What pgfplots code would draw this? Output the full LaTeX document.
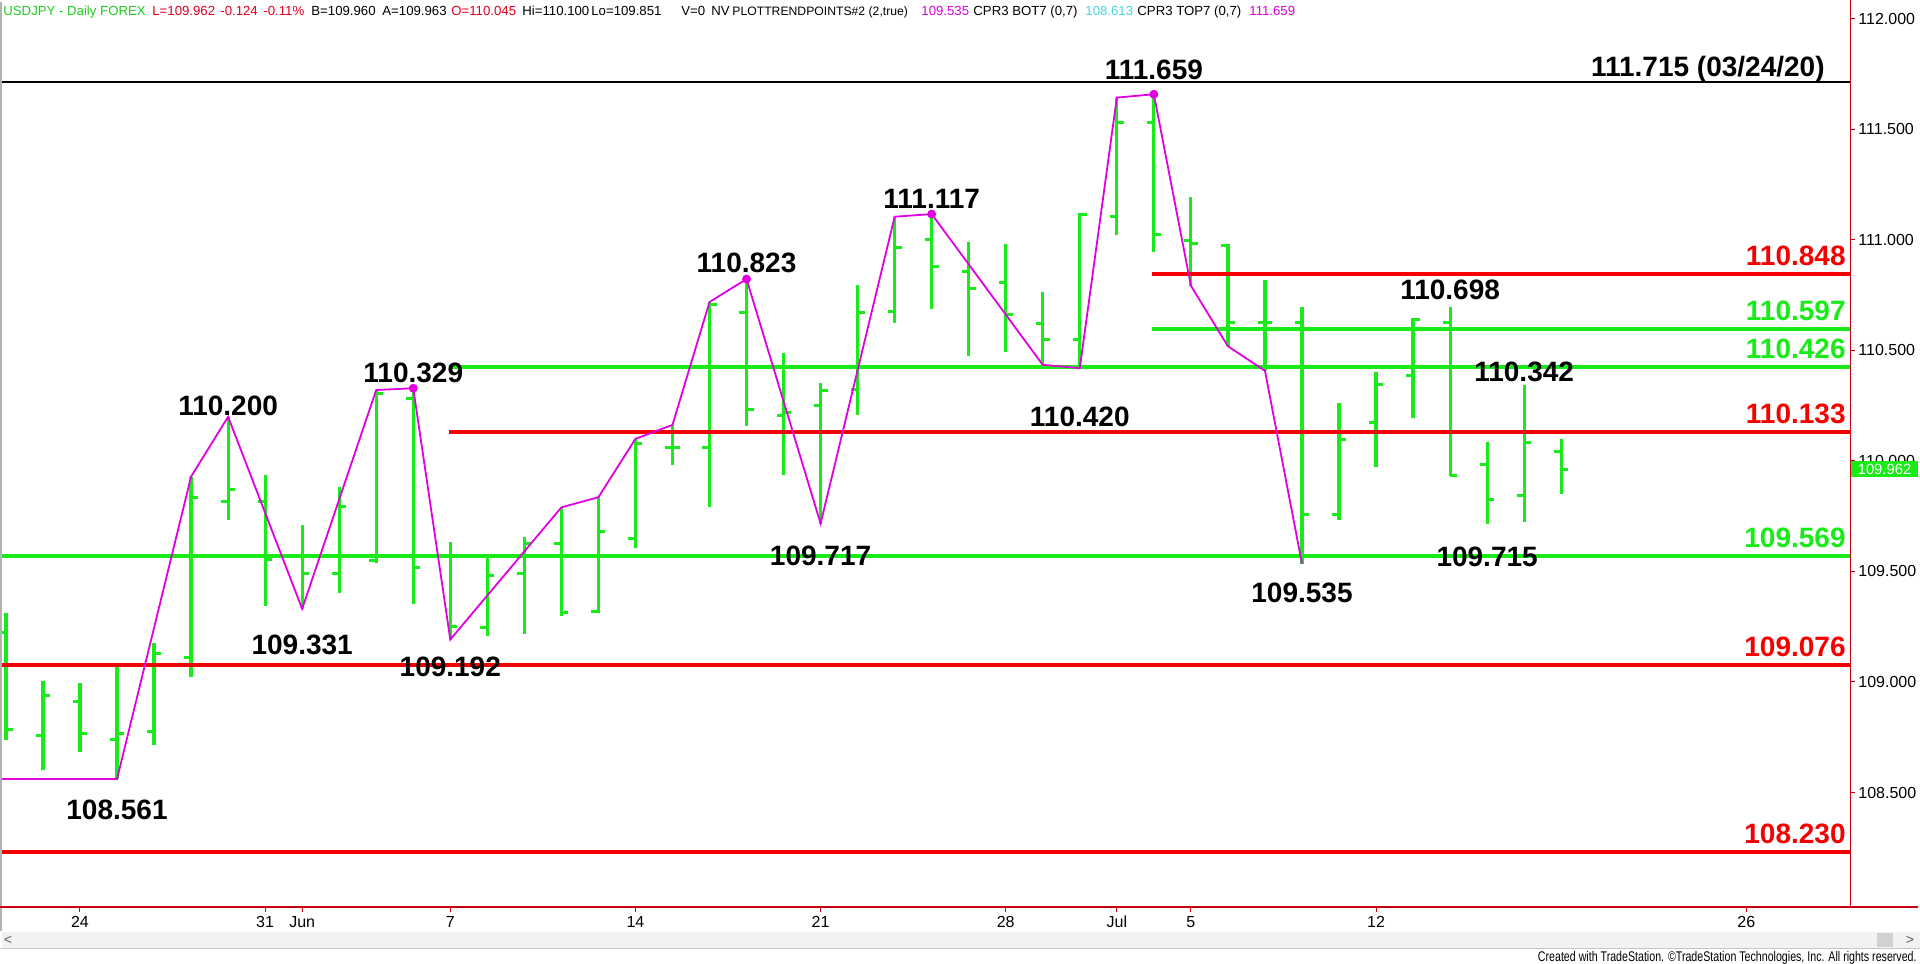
\documentclass[border=0pt]{standalone}
\usepackage{fontspec}
\setmainfont{Liberation Sans}
\newfontfamily\narrowfont{Liberation Sans}[FakeStretch=0.76]
\usepackage{pgfplots}
\usepackage{pgfplotstable}
\pgfplotsset{compat=1.18}

\definecolor{barG}{RGB}{25,235,25}
\definecolor{lvR}{RGB}{245,0,0}
\definecolor{zz}{RGB}{225,0,225}
\definecolor{axR}{RGB}{200,0,20}
\definecolor{hdrG}{RGB}{30,205,30}
\definecolor{hdrR}{RGB}{225,0,30}
\definecolor{hdrM}{RGB}{220,0,220}
\definecolor{hdrC}{RGB}{70,215,225}

% daily USDJPY bars, i = trading day (0 = May 24)
\pgfplotstableread{
i  O       H       L       C
-2 109.222 109.312 108.738 108.787
-1 108.760 109.005 108.602 108.937
0  108.910 108.995 108.683 108.765
1  108.738 109.068 108.561 108.765
2  108.774 109.176 108.715 109.127
3  109.113 109.929 109.023 109.833
4  109.816 110.200 109.733 109.873
5  109.816 109.937 109.344 109.552
6  109.570 109.710 109.331 109.492
7  109.492 109.884 109.401 109.793
8  109.549 110.321 109.537 110.306
9  110.284 110.329 109.353 109.519
10 109.570 109.635 109.192 109.253
11 109.247 109.567 109.210 109.480
12 109.492 109.655 109.216 109.628
13 109.628 109.790 109.299 109.315
14 109.318 109.836 109.314 109.680
15 109.647 110.100 109.608 110.080
16 110.063 110.163 109.982 110.063
17 110.063 110.719 109.792 110.710
18 110.670 110.823 110.158 110.231
19 110.204 110.489 109.937 110.217
20 110.249 110.353 109.717 110.317
21 110.324 110.796 110.207 110.670
22 110.674 111.105 110.624 110.964
23 111.000 111.117 110.686 110.880
24 110.855 110.990 110.475 110.781
25 110.809 110.982 110.492 110.662
26 110.622 110.765 110.435 110.548
27 110.548 111.124 110.420 111.113
28 111.105 111.644 111.023 111.533
29 111.533 111.659 110.944 111.026
30 110.998 111.196 110.793 110.982
31 110.975 110.982 110.519 110.625
32 110.626 110.820 110.408 110.626
33 110.626 110.695 109.535 109.760
34 109.760 110.261 109.733 110.098
35 110.175 110.404 109.971 110.347
36 110.388 110.646 110.193 110.641
37 110.628 110.698 109.932 109.932
38 109.982 110.087 109.715 109.827
39 109.843 110.342 109.725 110.084
40 110.045 110.100 109.851 109.962
}\ohlc

\begin{document}
\begin{tikzpicture}[hl/.style={font=\fontsize{14}{16}\selectfont\bfseries, inner sep=0pt, text=black}]
\begin{axis}[
  scale only axis, width=924pt, height=452pt,
  xmin=-2.106, xmax=47.80, ymin=107.982, ymax=112.072,
  clip mode=individual,
  axis line style={draw=none},
  xtick pos=bottom, ytick pos=right,
  tick align=outside, major tick length=2.5pt,
  tick style={draw=axR, line width=0.5pt},
  xtick={0,5,10,15,20,25,30,35,45},
  xticklabels={24,31,7,14,21,28,5,12,26},
  extra x ticks={6,28},
  extra x tick labels={Jun,Jul},
  ytick={108.5,109,109.5,110,110.5,111,111.5,112},
  scaled y ticks=false,
  y tick label style={/pgf/number format/.cd, fixed, fixed zerofill, precision=3, 1000 sep={}, assume math mode=true, /tikz/.cd,
    font=\fontsize{8}{9}\selectfont, text=black, anchor=west, inner sep=0pt, xshift=1.5pt},
  x tick label style={font=\fontsize{8}{9}\selectfont, text=black, anchor=north, inner sep=0pt, yshift=-2pt},
]
% OHLC bars: range, open tick (left), close tick (right)
\addplot[draw=none, mark=none, forget plot,
  error bars/.cd, y dir=minus, y explicit, error mark=none,
  error bar style={draw=barG, line width=1.6pt}]
  table[x=i, y=H, y error minus expr=\thisrow{H}-\thisrow{L}] {\ohlc};
\addplot[draw=none, mark=none, forget plot,
  error bars/.cd, x dir=minus, x fixed=0.19, error mark=none,
  error bar style={draw=barG, line width=1.5pt}]
  table[x=i, y=O] {\ohlc};
\addplot[draw=none, mark=none, forget plot,
  error bars/.cd, x dir=plus, x fixed=0.19, error mark=none,
  error bar style={draw=barG, line width=1.5pt}]
  table[x=i, y=C] {\ohlc};

% support / resistance levels
\addplot[black, line width=1pt] coordinates {(-2.106,111.715) (47.80,111.715)};
\addplot[lvR, line width=2pt] coordinates {(28.95,110.848) (47.80,110.848)};
\addplot[barG, line width=2pt] coordinates {(28.95,110.597) (47.80,110.597)};
\addplot[barG, line width=2pt] coordinates {(9.97,110.426) (47.80,110.426)};
\addplot[lvR, line width=2pt] coordinates {(9.97,110.133) (47.80,110.133)};
\addplot[barG, line width=2pt] coordinates {(-2.106,109.569) (47.80,109.569)};
\addplot[lvR, line width=2pt] coordinates {(-2.106,109.076) (47.80,109.076)};
\addplot[lvR, line width=2pt] coordinates {(-2.106,108.230) (47.80,108.230)};

% trend points zigzag
\addplot[zz, line width=0.9pt] coordinates {
  (-2.106,108.561) (1,108.561) (3,109.929) (4,110.200) (6,109.331) (8,110.321)
  (9,110.329) (10,109.192) (13,109.790) (14,109.836) (15,110.100) (16,110.163)
  (17,110.719) (18,110.823) (20,109.717) (22,111.105) (23,111.117) (26,110.435)
  (27,110.420) (28,111.644) (29,111.659) (30,110.793) (31,110.519) (32,110.408)
  (33,109.535)};
\addplot[zz, only marks, mark=*, mark size=2pt] coordinates {
  (9,110.329) (18,110.823) (23,111.117) (29,111.659)};

% swing labels
\node[hl, anchor=south, yshift=0.5pt] at (axis cs:4,110.200) {110.200};
\node[hl, anchor=south, yshift=2.5pt] at (axis cs:9,110.329) {110.329};
\node[hl, anchor=south, yshift=3pt] at (axis cs:18,110.823) {110.823};
\node[hl, anchor=south, yshift=2.5pt] at (axis cs:23,111.117) {111.117};
\node[hl, anchor=south, yshift=7pt] at (axis cs:29,111.659) {111.659};
\node[hl, anchor=south, yshift=3.5pt] at (axis cs:37,110.698) {110.698};
\node[hl, anchor=south, yshift=1.5pt] at (axis cs:39,110.342) {110.342};
\node[hl, anchor=north, yshift=-10.5pt] at (axis cs:1,108.561) {108.561};
\node[hl, anchor=north, yshift=-13pt] at (axis cs:6,109.331) {109.331};
\node[hl, anchor=north, yshift=-8.5pt] at (axis cs:10,109.192) {109.192};
\node[hl, anchor=north, yshift=-11pt] at (axis cs:20,109.717) {109.717};
\node[hl, anchor=north, yshift=-19pt] at (axis cs:27,110.420) {110.420};
\node[hl, anchor=north, yshift=-9.5pt] at (axis cs:33,109.535) {109.535};
\node[hl, anchor=north, yshift=-11.5pt] at (axis cs:38,109.715) {109.715};

% level labels
\node[hl, anchor=base east, xshift=-12.5pt, yshift=2.5pt] at (axis cs:47.80,111.715) {111.715 (03/24/20)};
\node[hl, text=lvR, anchor=base east, xshift=-2pt, yshift=4.25pt] at (axis cs:47.80,110.848) {110.848};
\node[hl, text=barG, anchor=base east, xshift=-2pt, yshift=4.25pt] at (axis cs:47.80,110.597) {110.597};
\node[hl, text=barG, anchor=base east, xshift=-2pt, yshift=4.25pt] at (axis cs:47.80,110.426) {110.426};
\node[hl, text=lvR, anchor=base east, xshift=-2pt, yshift=4.25pt] at (axis cs:47.80,110.133) {110.133};
\node[hl, text=barG, anchor=base east, xshift=-2pt, yshift=4.25pt] at (axis cs:47.80,109.569) {109.569};
\node[hl, text=lvR, anchor=base east, xshift=-2pt, yshift=4.25pt] at (axis cs:47.80,109.076) {109.076};
\node[hl, text=lvR, anchor=base east, xshift=-2pt, yshift=4.25pt] at (axis cs:47.80,108.230) {108.230};

\coordinate (A) at (rel axis cs:0,0);
\end{axis}

% frame, price box, scroll bar, header and footer in screen pixels (origin top left, y down);
% the axis box spans x 2..1850, y 3..907
\begin{scope}[shift={(A)}, shift={(-1pt,453.5pt)}, x=0.5pt, y=-0.5pt]
\draw[gray!60, line width=0.6pt] (1,2) -- (1,931);
\draw[axR, line width=0.6pt] (1850.5,0) -- (1850.5,907);
\draw[axR, line width=0.6pt] (0,907) -- (1918,907);
\fill[barG] (1851,461) rectangle (1918,477);
\node[text=white, font=\fontsize{7.4}{9}\selectfont, inner sep=0pt] at (1884.5,469) {109.962};
\fill[gray!10] (2,932) rectangle (1920,948);
\fill[gray!35] (1877,933) rectangle (1893,947);
\draw[gray!45, line width=0.5pt] (0,948.5) -- (1920,948.5);
\node[text=gray!70!black, font=\fontsize{7}{8}\selectfont, inner sep=0pt] at (8,940) {<};
\node[text=gray!70!black, font=\fontsize{7}{8}\selectfont, inner sep=0pt] at (1910,940) {>};
\node[anchor=base east, inner sep=0pt, font=\narrowfont\fontsize{7}{8}\selectfont] at (1917,961)
  {Created with TradeStation. \textcopyright TradeStation Technologies, Inc. All rights reserved.};

\begin{scope}[every node/.style={anchor=base west, inner sep=0pt, font=\fontsize{6.6}{8}\selectfont}]
\node[text=hdrG] at (3,16) {USDJPY - Daily FOREX};
\node[text=hdrR] at (152,16) {L=109.962};
\node[text=hdrR] at (220,16) {-0.124};
\node[text=hdrR] at (263,16) {-0.11\%};
\node at (311,16) {B=109.960};
\node at (382,16) {A=109.963};
\node[text=hdrR] at (451,16) {O=110.045};
\node at (522,16) {Hi=110.100};
\node at (591,16) {Lo=109.851};
\node at (681,16) {V=0};
\node at (711,16) {NV};
\node[font=\fontsize{6.1}{8}\selectfont] at (732,16) {PLOTTRENDPOINTS\#2 (2,true)};
\node[text=hdrM] at (921,16) {109.535};
\node at (973,16) {CPR3 BOT7 (0,7)};
\node[text=hdrC] at (1085,16) {108.613};
\node at (1137,16) {CPR3 TOP7 (0,7)};
\node[text=hdrM] at (1249,16) {111.659};
\end{scope}

\pgfresetboundingbox
\path[use as bounding box] (0,0) rectangle (1920,963);
\end{scope}
\end{tikzpicture}
\end{document}
